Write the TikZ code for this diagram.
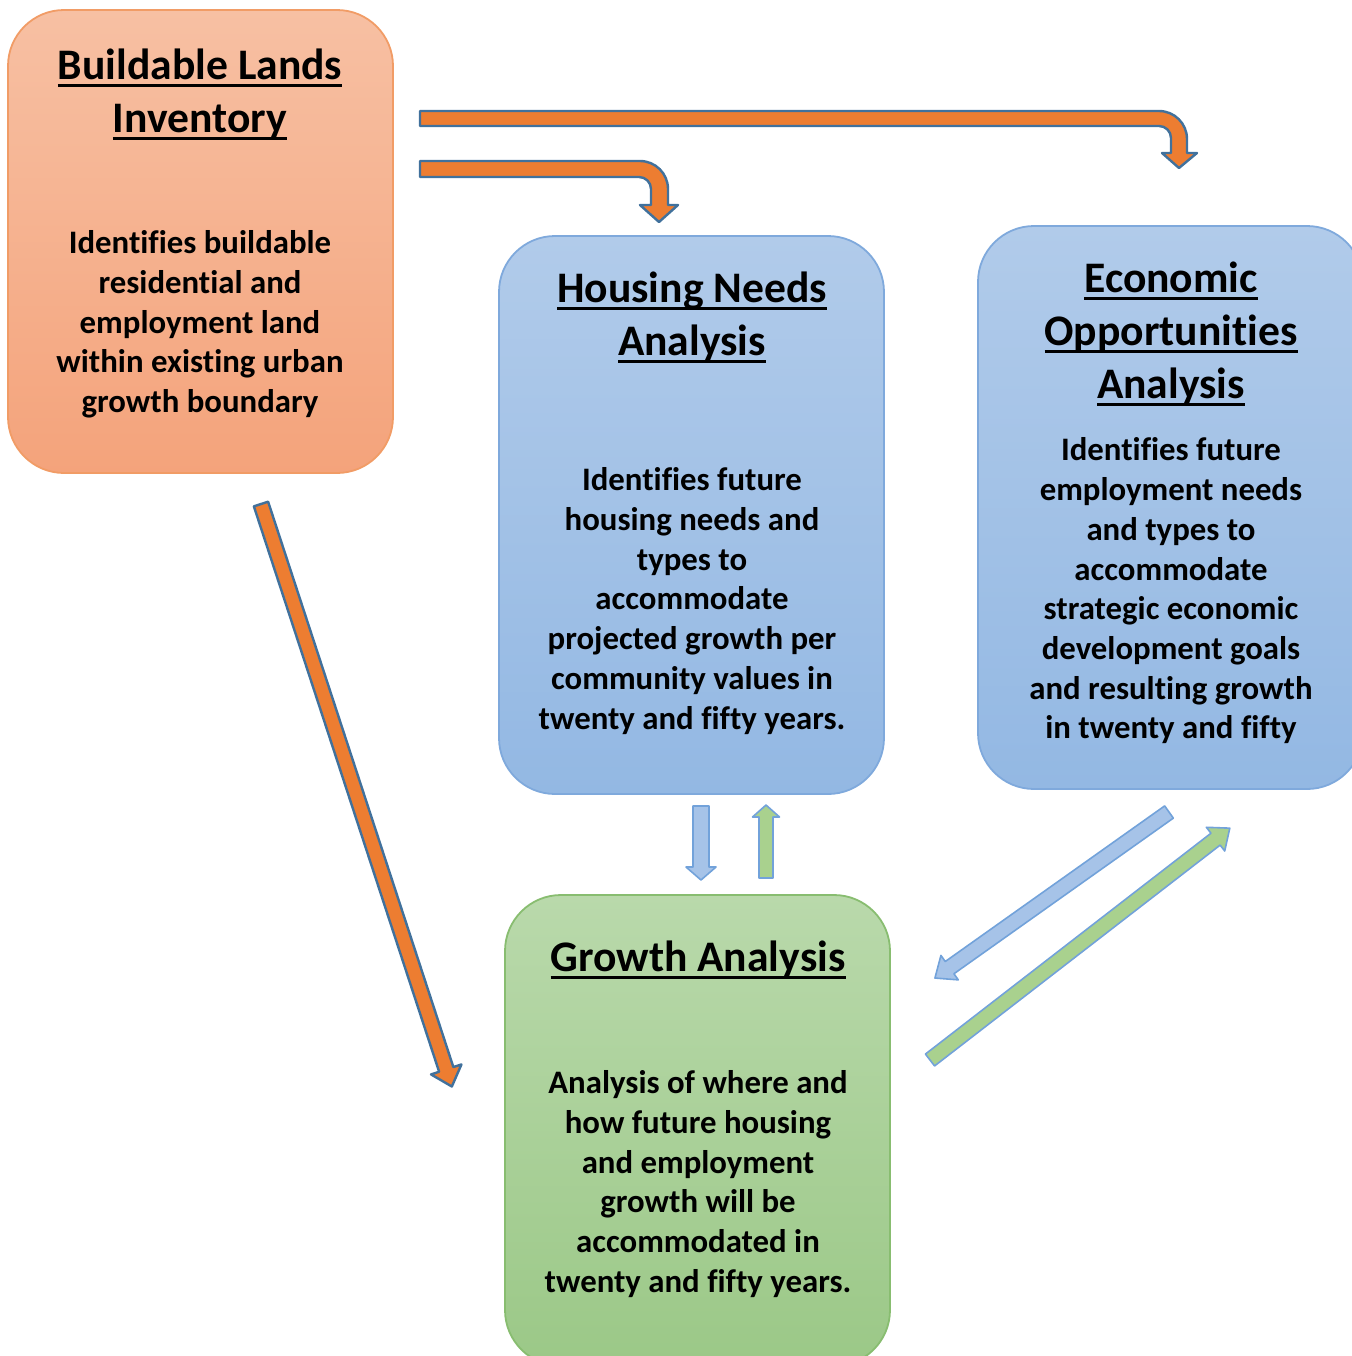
\documentclass[tikz,border=0pt]{standalone}
\usepackage{fontspec}
\setmainfont{Carlito}[Ligatures=NoCommon]

% underline drawn at a fixed depth below the baseline
\newsavebox\ulnbox
\newcommand\uln[1]{\sbox\ulnbox{#1}\rlap{\rule[-3.8pt]{\wd\ulnbox}{1.5pt}}\usebox\ulnbox}

% Block arrow along local x: #1 style, #2 tail centre, #3 angle, #4 length,
% #5 half shaft width, #6 half head width, #7 head length
\newcommand\blockarrow[7]{%
  \begin{scope}[shift={#2},rotate=#3]
    \draw[#1] (0,-#5) -- ({#4-#7},-#5) -- ({#4-#7},-#6) -- (#4,0)
      -- ({#4-#7},#6) -- ({#4-#7},#5) -- (0,#5) -- cycle;
  \end{scope}}

\definecolor{orFillTop}{HTML}{F7C0A3}
\definecolor{orFillBot}{HTML}{F4A37B}
\definecolor{orLine}{HTML}{F19C66}
\definecolor{blFillTop}{HTML}{B1CBEA}
\definecolor{blFillBot}{HTML}{93B8E3}
\definecolor{blLine}{HTML}{7FA9DC}
\definecolor{grFillTop}{HTML}{B9D9AB}
\definecolor{grFillBot}{HTML}{9BC887}
\definecolor{grLine}{HTML}{88BD70}
\definecolor{arrOrange}{HTML}{ED7D31}
\definecolor{arrOrLine}{HTML}{41719C}
\definecolor{arrBlue}{HTML}{A6C3E8}
\definecolor{arrBlLine}{HTML}{72A2DA}
\definecolor{arrGreen}{HTML}{A9D18E}

\tikzset{
  panel/.style={rectangle, rounded corners=28pt, line width=0.9pt,
    minimum width=192.5pt, inner sep=0pt},
  orpanel/.style={panel, draw=orLine, top color=orFillTop, bottom color=orFillBot},
  blpanel/.style={panel, draw=blLine, top color=blFillTop, bottom color=blFillBot},
  grpanel/.style={panel, draw=grLine, top color=grFillTop, bottom color=grFillBot},
  title/.style={align=center, inner sep=0pt, font=\bfseries\fontsize{21.8}{26.5}\selectfont},
  body/.style={align=center, inner sep=0pt, font=\bfseries\fontsize{16.4}{19.85}\selectfont},
  orarrow/.style={fill=arrOrange, draw=arrOrLine, line width=1.2pt, line join=round},
  blarrow/.style={fill=arrBlue, draw=arrBlLine, line width=0.8pt, line join=round},
  grarrow/.style={fill=arrGreen, draw=arrBlLine, line width=0.8pt, line join=round}
}

\begin{document}
\begin{tikzpicture}[x=0.5pt, y=-0.5pt]
  \useasboundingbox (0,0) rectangle (1352,1356);
  \clip (0,0) rectangle (1352,1356);

  % panels
  \node[orpanel, minimum height=231.5pt] (bli) at (200.5,241.5) {};
  \node[blpanel, minimum height=279pt] (hna) at (691.5,515) {};
  \node[blpanel, minimum height=281.5pt] (eoa) at (1170.5,507.5) {};
  \node[grpanel, minimum height=235.5pt] (gra) at (697.5,1130.5) {};

  % panel texts
  \node[title] (bliT) at (200,94) {\uln{Buildable Lands}\\\uln{Inventory}};
  \node[body] (bliB) at (200,324.5) {Identifies buildable\\residential and\\employment land\\within existing urban\\growth boundary};

  \node[title] (hnaT) at (692,317) {\uln{Housing Needs}\\\uln{Analysis}};
  \node[body] (hnaB) at (692,601) {Identifies future\\housing needs and\\types to\\accommodate\\projected growth per\\community values in\\twenty and fifty years.};

  \node[title] (eoaT) at (1171,333.5) {\uln{Economic}\\\uln{Opportunities}\\\uln{Analysis}};
  \node[body] (eoaB) at (1171,591) {Identifies future\\employment needs\\and types to\\accommodate\\strategic economic\\development goals\\and resulting growth\\in twenty and fifty};

  \node[title] (graT) at (698,959.5) {\uln{Growth Analysis}};
  \node[body] (graB) at (698,1184) {Analysis of where and\\how future housing\\and employment\\growth will be\\accommodated in\\twenty and fifty years.};

  % bent arrows from the inventory panel
  \draw[orarrow] (420,111) -- (1159,111) arc[start angle=-90,end angle=0,radius=28]
    -- (1187,153) -- (1197,153) -- (1179,168) -- (1162,153) -- (1171,153)
    -- (1171,138) arc[start angle=0,end angle=-90,radius=12] -- (420,126) -- cycle;
  \draw[orarrow] (420,161) -- (640,161) arc[start angle=-90,end angle=0,radius=28]
    -- (668,205) -- (678,205) -- (659,222) -- (640,205) -- (651,205)
    -- (651,189) arc[start angle=0,end angle=-90,radius=12] -- (420,177) -- cycle;

  % straight arrows
  \blockarrow{orarrow}{(261,504)}{-71.86}{613}{7.5}{16}{18}
  \blockarrow{blarrow}{(701,806)}{-90}{74}{8}{15}{13}
  \blockarrow{grarrow}{(766,878)}{90}{73}{7}{13.5}{12}
  \blockarrow{blarrow}{(1169,812)}{-144.65}{287}{7.5}{15}{18}
  \blockarrow{grarrow}{(930,1060)}{37.72}{379}{7.5}{15}{18}
\end{tikzpicture}
\end{document}
